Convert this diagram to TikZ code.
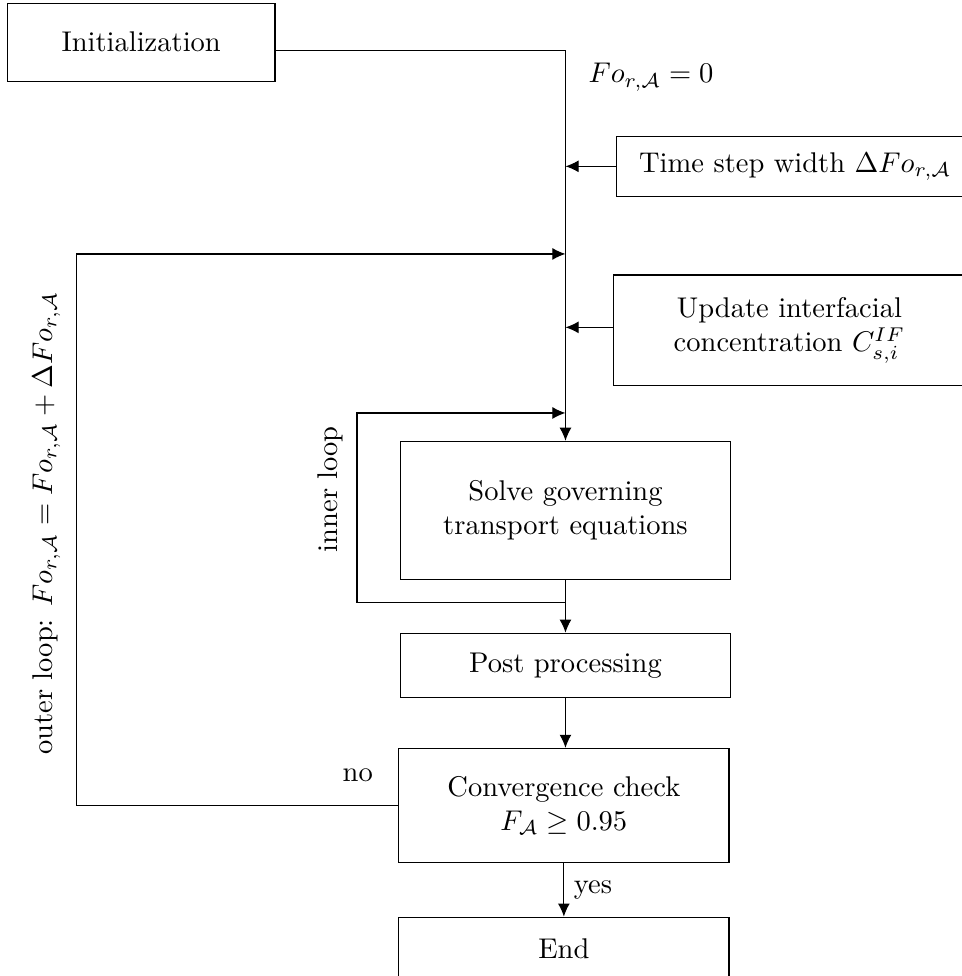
\documentclass[tikz,border=0pt]{standalone}
\usetikzlibrary{arrows.meta}

\begin{document}
\begin{tikzpicture}
            \tikzset{blk/.style={draw, minimum width=4.07cm, minimum height=0.79cm, align=center}}
            \tikzset{arr/.style={-{Latex[length=4.6pt, width=4.2pt]}}}

            \useasboundingbox (0,0) rectangle (11.85,-12.03);

            \node[blk, minimum width=3.30cm, minimum height=0.96cm] (init) at (1.74,-0.52) {Initialization};
            \node[anchor=west] (fozero) at (7.13,-0.95) {$Fo_{r,\mathcal{A}} = 0$};

            \node[blk, minimum width=4.41cm, minimum height=0.74cm] (tstep) at (9.80,-2.05) {Time step width $\Delta Fo_{r,\mathcal{A}}$};
            \node[blk, minimum width=4.34cm, minimum height=1.36cm] (update) at (9.73,-4.07) {Update interfacial\\concentration $C_{s,i}^{IF}$};

            \node[blk, minimum height=1.70cm] (solve) at (6.97,-6.29) {Solve governing\\transport equations};
            \node[blk] (post) at (6.97,-8.20) {Post processing};
            \node[blk, minimum height=1.41cm] (conv) at (6.95,-9.93) {Convergence check\\$F_{\mathcal{A}} \geq 0.95$};
            \node[blk] (end) at (6.95,-11.70) {End};

            \node[rotate=90] (innerlbl) at (4.07,-6.03) {inner loop};
            \node[rotate=90] (outerlbl) at (0.57,-6.45) {outer loop: $Fo_{r,\mathcal{A}} = Fo_{r,\mathcal{A}} + \Delta Fo_{r,\mathcal{A}}$};
            \node (nolbl) at (4.41,-9.56) {no};

            \coordinate (itop) at (4.40,-5.09);
            \coordinate (ibot) at (6.97,-7.43);
            \coordinate (otop) at (0.94,-3.13);

            \draw[arr] ([yshift=-3pt]init.east) -| (solve.north);
            \draw[arr] (tstep.west) -- (tstep.west -| solve.north);
            \draw[arr] ([yshift=1pt]update.west) -- ([yshift=1pt]update.west -| solve.north);

            \draw[arr] (ibot) -| (itop) -- (itop -| solve.north);
            \draw[arr] (conv.west) -| (otop) -- (otop -| solve.north);

            \draw[arr] (solve.south) -- (post.north);
            \draw[arr] (post.south) -- (post.south |- conv.north);
            \draw[arr] (conv.south) -- node[right] {yes} (end.north);
        \end{tikzpicture}
\end{document}
